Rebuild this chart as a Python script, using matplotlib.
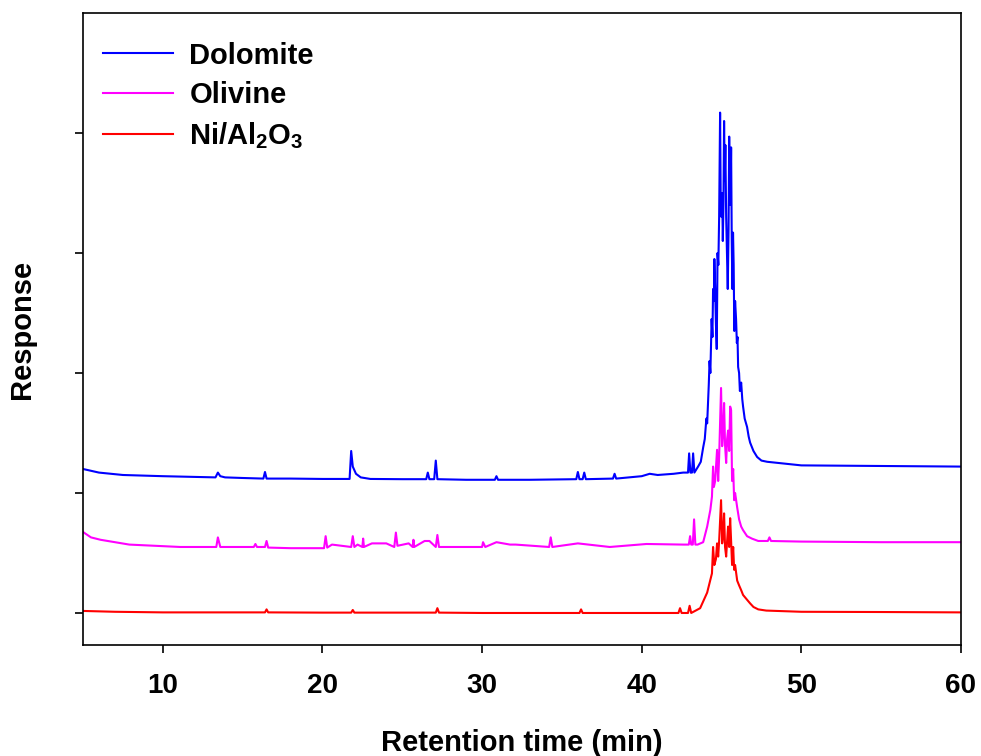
import matplotlib.pyplot as plt

plt.rcParams['font.family'] = ['Liberation Sans', 'DejaVu Sans']
plt.rcParams['font.weight'] = 'bold'
plt.rcParams['mathtext.fontset'] = 'custom'
plt.rcParams['mathtext.rm'] = 'Liberation Sans:bold'
plt.rcParams['mathtext.bf'] = 'Liberation Sans:bold'
plt.rcParams['mathtext.default'] = 'rm'

# Dolomite trace (retention time in min, response in arbitrary units)
dolomite_t = [5.0, 6.0, 7.5, 10.0, 13.3, 13.45, 13.6, 13.9, 15.0, 16.3, 16.4, 16.5, 18.0, 20.0,
              21.7, 21.8, 21.9, 22.1, 22.4, 23.0, 25.0, 26.5, 26.6, 26.7, 27.0, 27.1, 27.2, 29.0,
              30.8, 30.9, 31.0, 33.0, 35.9, 36.0, 36.1, 36.3, 36.4, 36.5, 38.2, 38.3, 38.4, 40.0,
              40.5, 41.0, 42.0, 42.6, 42.9, 42.97, 43.05, 43.15, 43.22, 43.3, 43.53, 43.7, 43.85,
              43.95, 44.05, 44.1, 44.2, 44.25, 44.3, 44.38, 44.43, 44.47, 44.52, 44.55, 44.6,
              44.65, 44.7, 44.75, 44.8, 44.85, 44.91, 44.95, 45.0, 45.04, 45.08, 45.12, 45.16,
              45.2, 45.24, 45.29, 45.34, 45.39, 45.44, 45.48, 45.52, 45.56, 45.6, 45.64, 45.68,
              45.72, 45.76, 45.8, 45.85, 45.91, 45.96, 46.0, 46.04, 46.1, 46.15, 46.23, 46.3,
              46.35, 46.45, 46.6, 46.7, 46.79, 47.0, 47.23, 47.5, 47.86, 50.0, 55.0, 60.0]
dolomite_y = [1.20, 1.17, 1.15, 1.14, 1.13, 1.17, 1.14, 1.13, 1.125, 1.12, 1.175, 1.12, 1.12, 1.117,
              1.117, 1.35, 1.22, 1.16, 1.13, 1.117, 1.115, 1.115, 1.17, 1.115, 1.115, 1.27, 1.115, 1.11,
              1.11, 1.14, 1.11, 1.11, 1.115, 1.175, 1.115, 1.115, 1.17, 1.115, 1.12, 1.16, 1.12, 1.14,
              1.16, 1.15, 1.16, 1.17, 1.17, 1.33, 1.17, 1.17, 1.33, 1.17, 1.22, 1.26, 1.38,
              1.45, 1.62, 1.58, 1.90, 2.10, 2.00, 2.45, 2.30, 2.70, 2.60, 2.95, 2.70,
              2.40, 2.20, 3.00, 2.90, 3.30, 4.17, 3.40, 3.30, 3.50, 3.10, 3.40, 4.10,
              3.60, 3.90, 3.30, 3.00, 2.70, 3.20, 3.97, 3.50, 3.40, 3.88, 3.10, 2.70,
              3.17, 2.90, 2.35, 2.60, 2.45, 2.25, 2.30, 2.05, 2.00, 1.85, 1.92, 1.78,
              1.72, 1.62, 1.55, 1.47, 1.42, 1.35, 1.30, 1.27, 1.26, 1.23, 1.225, 1.22]

# Olivine trace
olivine_t = [5.0, 5.5, 6.1, 7.9, 11.1, 13.35, 13.45, 13.6, 15.7, 15.8, 15.9, 16.4, 16.5, 16.6, 18.0,
             20.1, 20.2, 20.3, 20.6, 21.8, 21.9, 22.0, 22.2, 22.5, 22.55, 22.6, 23.1, 23.7, 24.0,
             24.5, 24.6, 24.7, 25.4, 25.65, 25.7, 25.75, 26.4, 26.7, 27.1, 27.2, 27.3, 29.3, 30.0,
             30.06, 30.2, 30.9, 31.75, 32.1, 34.2, 34.3, 34.4, 36.0, 38.0, 40.3, 42.6, 42.95, 43.03,
             43.1, 43.2, 43.28, 43.36, 43.5, 43.85, 44.1, 44.3, 44.4, 44.47, 44.52, 44.6, 44.72,
             44.79, 44.85, 44.97, 45.04, 45.1, 45.16, 45.22, 45.29, 45.35, 45.41, 45.48, 45.54,
             45.6, 45.66, 45.73, 45.79, 45.85, 45.98, 46.1, 46.23, 46.35, 46.6, 46.9, 47.3, 47.8,
             47.9, 48.0, 48.1, 50.0, 55.0, 60.0]
olivine_y = [0.675, 0.63, 0.61, 0.57, 0.55, 0.55, 0.63, 0.55, 0.55, 0.575, 0.55, 0.55, 0.60, 0.545, 0.54,
             0.54, 0.64, 0.545, 0.57, 0.55, 0.64, 0.55, 0.57, 0.55, 0.62, 0.55, 0.58, 0.58, 0.58,
             0.55, 0.67, 0.56, 0.58, 0.55, 0.61, 0.55, 0.60, 0.60, 0.55, 0.65, 0.55, 0.55, 0.55,
             0.59, 0.55, 0.59, 0.57, 0.57, 0.55, 0.63, 0.55, 0.58, 0.55, 0.575, 0.57, 0.57, 0.64,
             0.57, 0.57, 0.78, 0.57, 0.57, 0.59, 0.72, 0.86, 0.97, 1.22, 1.05, 1.10, 1.36,
             1.10, 1.30, 1.875, 1.39, 1.50, 1.75, 1.40, 1.25, 1.45, 1.52, 1.35, 1.72,
             1.69, 1.10, 1.20, 0.94, 1.00, 0.88, 0.78, 0.72, 0.69, 0.64, 0.62, 0.60, 0.60,
             0.60, 0.63, 0.60, 0.595, 0.59, 0.59]

# Ni/Al2O3 trace
nial_t = [5.0, 7.0, 10.0, 16.4, 16.5, 16.6, 20.0, 21.8, 21.9, 22.0, 27.1, 27.2, 27.3, 30.0, 36.1,
          36.2, 36.3, 40.0, 42.3, 42.4, 42.5, 42.9, 43.0, 43.1, 43.66, 44.1, 44.4, 44.47, 44.55,
          44.65, 44.72, 44.79, 44.85, 44.97, 45.04, 45.1, 45.16, 45.22, 45.29, 45.35, 45.41,
          45.48, 45.54, 45.6, 45.66, 45.73, 45.79, 45.85, 45.98, 46.1, 46.23, 46.35, 46.6,
          46.79, 47.0, 47.3, 47.8, 50.0, 55.0, 60.0]
nial_y = [0.017, 0.01, 0.005, 0.005, 0.03, 0.005, 0.003, 0.003, 0.025, 0.003, 0.003, 0.04, 0.003, 0.0, 0.0,
          0.03, 0.0, 0.0, 0.0, 0.04, 0.0, 0.0, 0.06, 0.0, 0.04, 0.17, 0.33, 0.55, 0.40,
          0.45, 0.58, 0.47, 0.60, 0.94, 0.58, 0.65, 0.83, 0.55, 0.47, 0.60, 0.72,
          0.55, 0.79, 0.60, 0.40, 0.55, 0.36, 0.40, 0.27, 0.23, 0.19, 0.15, 0.11,
          0.08, 0.05, 0.03, 0.02, 0.01, 0.008, 0.005]

fig = plt.figure(figsize=(9.81, 7.56), dpi=100)
ax = fig.add_axes([0.0846, 0.1468, 0.895, 0.836])

ax.plot(dolomite_t, dolomite_y, color='#0000ff', lw=1.5, label='Dolomite')
ax.plot(olivine_t, olivine_y, color='#ff00ff', lw=1.5, label='Olivine')
ax.plot(nial_t, nial_y, color='#ff0000', lw=1.5, label='Ni/Al$_2$O$_3$')

ax.set_xlim(5, 60)
ax.set_ylim(-0.267, 5.0)
ax.set_xticks([10, 20, 30, 40, 50, 60])
ax.set_yticks([0, 1, 2, 3, 4])
ax.set_yticklabels([])
ax.tick_params(direction='out', length=6, width=1.2, labelsize=20, pad=14)
for s in ax.spines.values():
    s.set_linewidth(1.2)

ax.set_xlabel('Retention time (min)', fontsize=21, fontweight='bold', labelpad=22)
ax.set_ylabel('Response', fontsize=21, fontweight='bold', labelpad=14)

ax.legend(loc='upper left', frameon=False, fontsize=21, handlelength=2.4, handletextpad=0.55,
          labelspacing=0.38, borderaxespad=0.3, bbox_to_anchor=(0.0, 0.987))

plt.savefig('out.png', dpi=100)
